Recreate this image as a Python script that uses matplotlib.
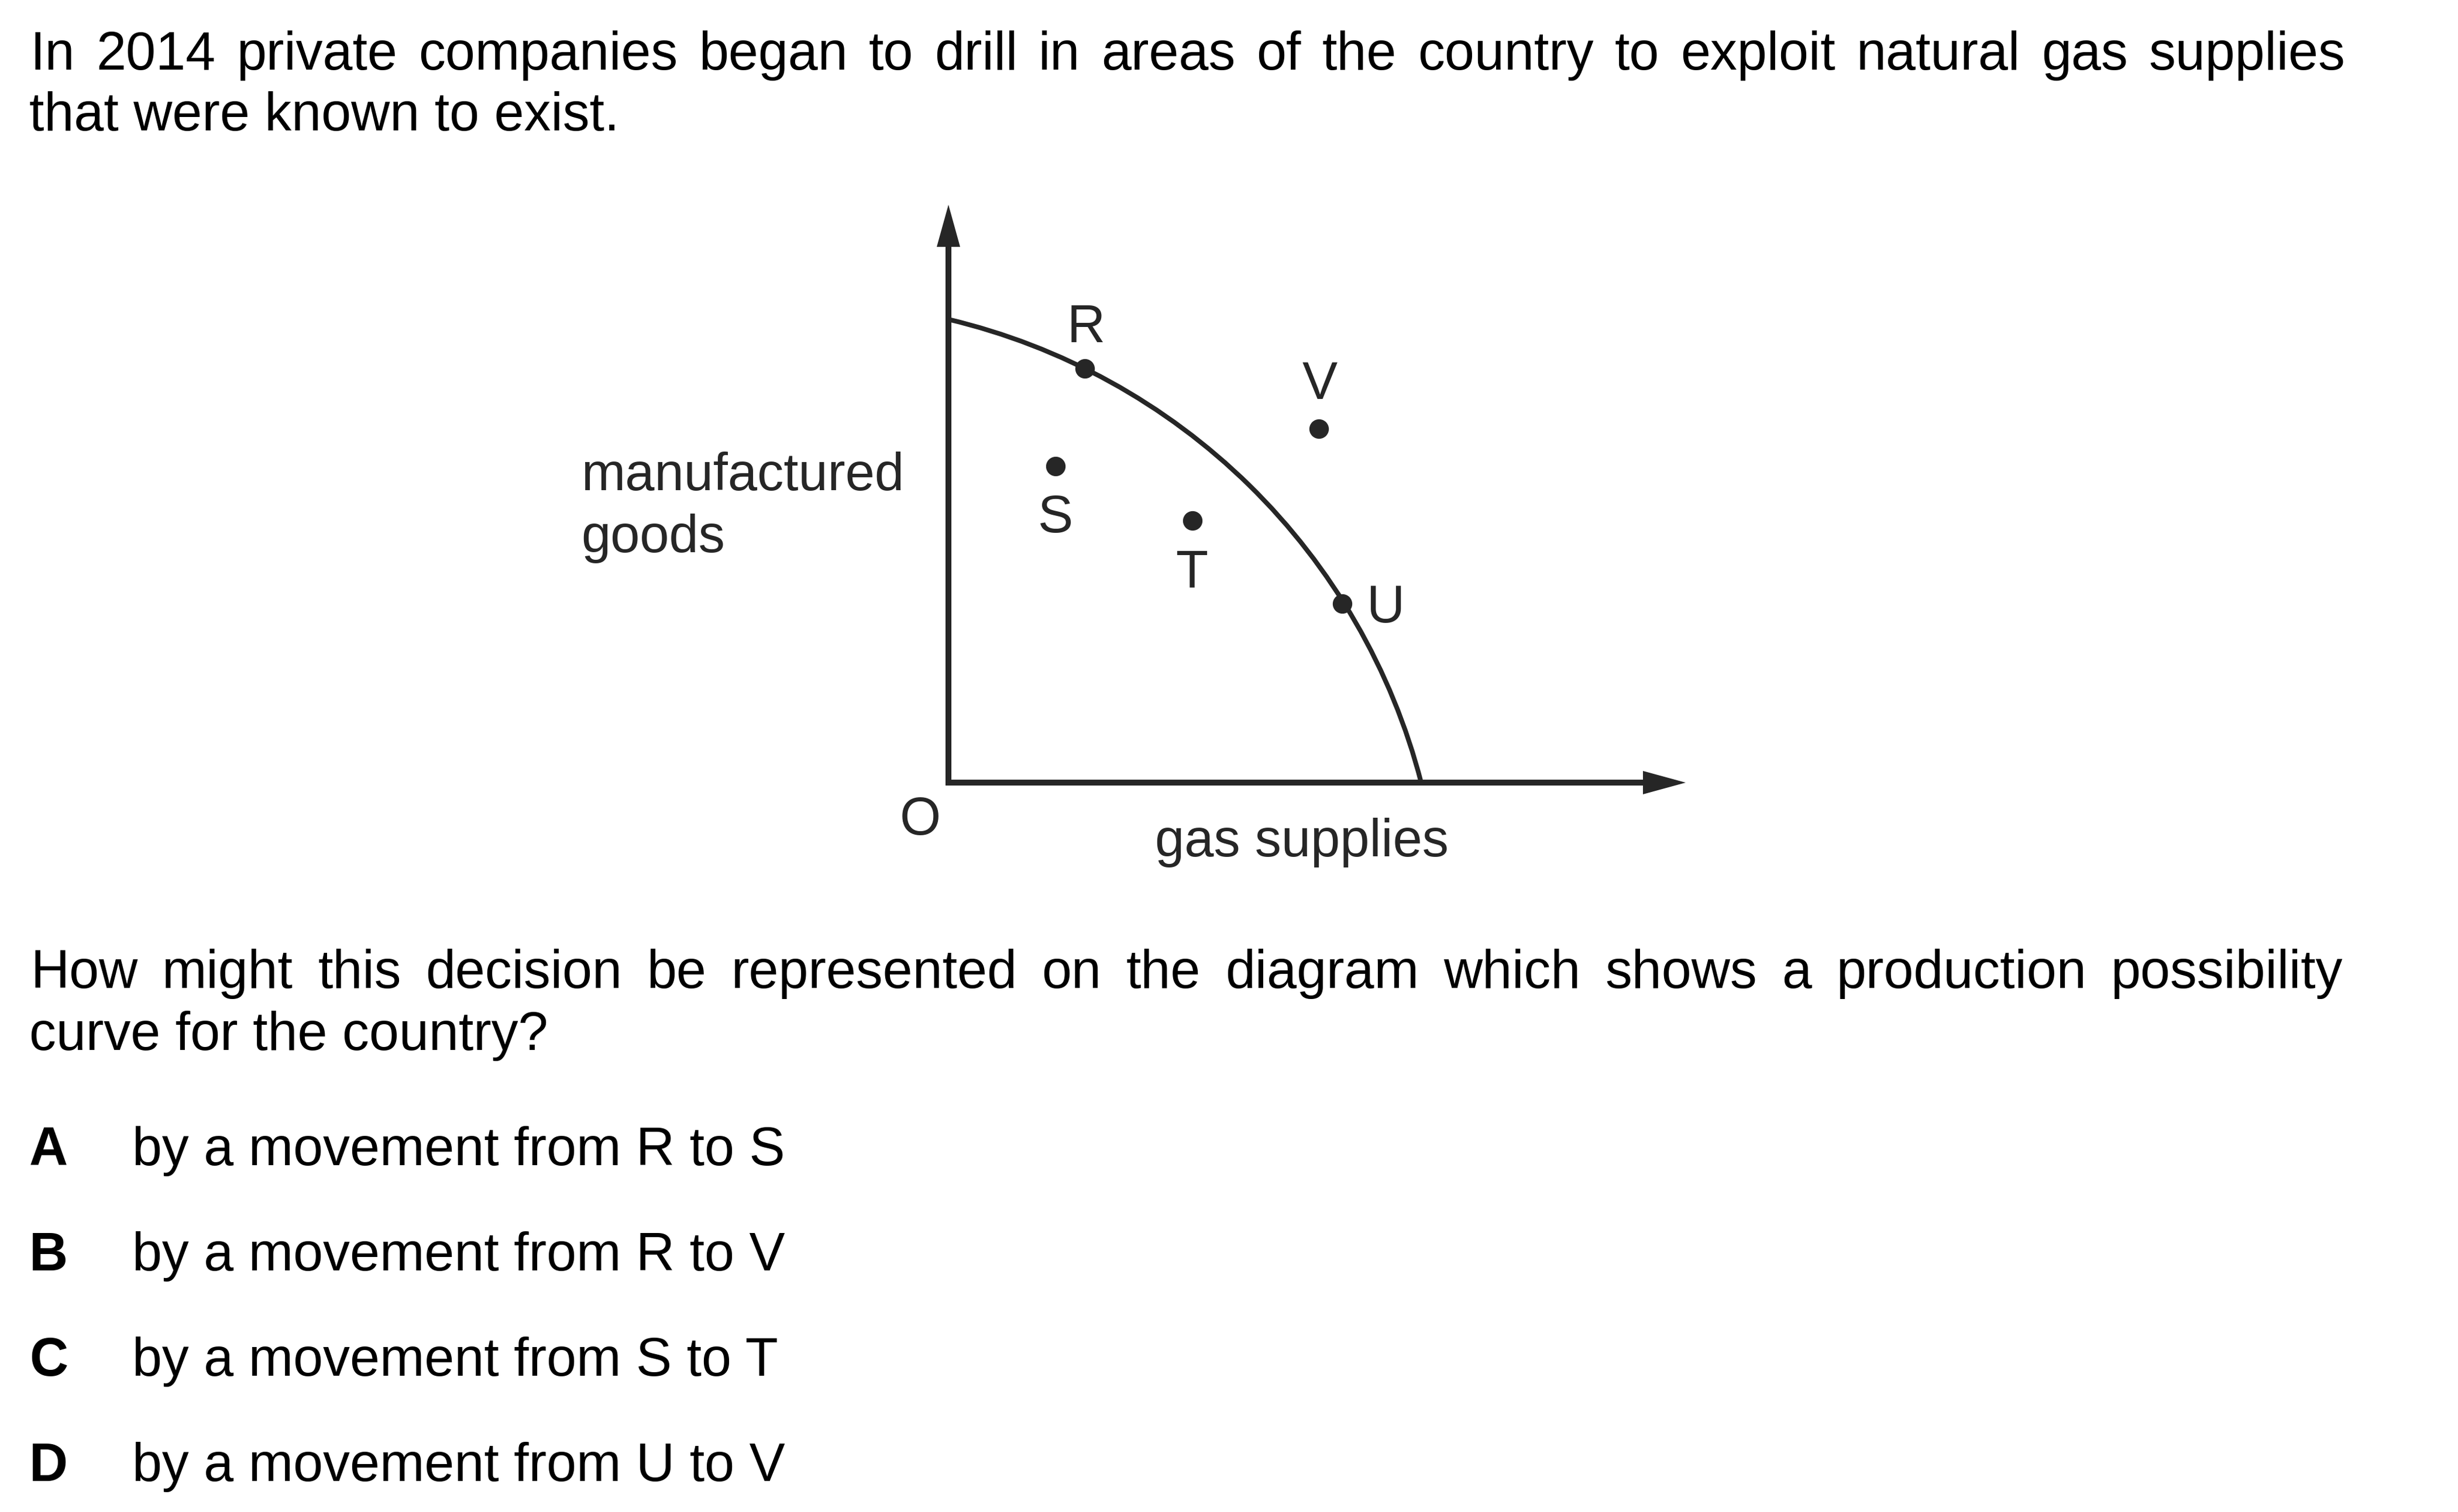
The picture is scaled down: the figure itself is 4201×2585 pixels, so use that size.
import numpy as np
import matplotlib
matplotlib.use('Agg')
import matplotlib.pyplot as plt
from matplotlib.patches import Arc

plt.rcParams['font.family'] = ['Liberation Sans', 'DejaVu Sans']

# figure size in pixels
W, H = 4201, 2585

# question text
intro_line1 = 'In 2014 private companies began to drill in areas of the country to exploit natural gas supplies'
intro_line2 = 'that were known to exist.'
question_line1 = 'How might this decision be represented on the diagram which shows a production possibility'
question_line2 = 'curve for the country?'
option_letters = ['A', 'B', 'C', 'D']
option_texts = ['by a movement from R to S',
                'by a movement from R to V',
                'by a movement from S to T',
                'by a movement from U to V']

# diagram values (1 unit = 100 px)
ppf_start = (0.0, 7.92)      # where the curve meets the y axis
ppf_end = (8.08, 0.0)        # where the curve meets the x axis
ppf_center = (-2.526, -2.738)
ppf_radius = 10.953
point_names = ['R', 'S', 'T', 'U', 'V']
point_x = [2.33, 1.83, 4.17, 6.73, 6.33]
point_y = [7.08, 5.41, 4.48, 3.06, 6.05]
y_axis_top = 9.88
x_axis_right = 12.60

# label placement (baseline positions)
label_x = [2.35, 1.83, 4.17, 7.48, 6.35]
label_y = [7.53, 4.28, 3.33, 2.74, 6.56]

ink = '#262626'
body_size = 66
diag_size = 65

fig = plt.figure(figsize=(W / 100, H / 100), dpi=100)
fig.patch.set_facecolor('white')


def fy(y):
    return 1 - y / H


def justified(text, y, x0, x1):
    words = text.split(' ')
    objs = [fig.text(0, fy(y), w, fontsize=body_size, va='baseline', ha='left', color='black')
            for w in words]
    renderer = fig.canvas.get_renderer()
    widths = [o.get_window_extent(renderer).width for o in objs]
    gap = (x1 - x0 - sum(widths)) / (len(words) - 1)
    x = x0
    for o, w in zip(objs, widths):
        o.set_x(x / W)
        x += w + gap


justified(intro_line1, 119, 52, 4008)
fig.text(50 / W, fy(223), intro_line2, fontsize=body_size, va='baseline', color='black')
justified(question_line1, 1689, 52, 4004)
fig.text(50 / W, fy(1795), question_line2, fontsize=body_size, va='baseline', color='black')

for i, (letter, txt) in enumerate(zip(option_letters, option_texts)):
    yb = 1992 + i * 180
    fig.text(50 / W, fy(yb), letter, fontsize=body_size, fontweight='bold', va='baseline', color='black')
    fig.text(226 / W, fy(yb), txt, fontsize=body_size, va='baseline', color='black')

# diagram axes: origin at pixel (1621, 1338), 100 px per unit
ox, oy = 1621, 1338
xmin, xmax, ymin, ymax = -1.0, 13.5, -1.0, 10.5
ax = fig.add_axes([(ox + xmin * 100) / W, (H - oy + ymin * 100) / H,
                   (xmax - xmin) * 100 / W, (ymax - ymin) * 100 / H])
ax.set_xlim(xmin, xmax)
ax.set_ylim(ymin, ymax)
ax.axis('off')

# axes with arrow heads
ax.arrow(0, -0.05, 0, y_axis_top + 0.05, width=0.10, head_width=0.40, head_length=0.72,
         length_includes_head=True, color=ink, lw=0, clip_on=False)
ax.arrow(-0.05, 0, x_axis_right + 0.05, 0, width=0.10, head_width=0.40, head_length=0.73,
         length_includes_head=True, color=ink, lw=0, clip_on=False)

# production possibility curve
theta1 = np.degrees(np.arctan2(ppf_end[1] - ppf_center[1], ppf_end[0] - ppf_center[0]))
theta2 = np.degrees(np.arctan2(ppf_start[1] - ppf_center[1], ppf_start[0] - ppf_center[0]))
ax.add_patch(Arc(ppf_center, 2 * ppf_radius, 2 * ppf_radius, theta1=theta1, theta2=theta2,
                 color=ink, lw=5.8, clip_on=False))

# points
ax.plot(point_x, point_y, 'o', color=ink, markersize=23, clip_on=False)
for name, lx, ly in zip(point_names, label_x, label_y):
    ax.text(lx, ly, name, fontsize=diag_size, ha='center', va='baseline', color=ink)

# axis labels
ax.text(-6.28, 5.00, 'manufactured', fontsize=diag_size, ha='left', va='baseline', color=ink)
ax.text(-6.28, 3.94, 'goods', fontsize=diag_size, ha='left', va='baseline', color=ink)
ax.text(-0.48, -0.89, 'O', fontsize=diag_size, ha='center', va='baseline', color=ink)
ax.text(6.04, -1.26, 'gas supplies', fontsize=diag_size, ha='center', va='baseline', color=ink)

fig.savefig('out.png', dpi=100, facecolor='white')
